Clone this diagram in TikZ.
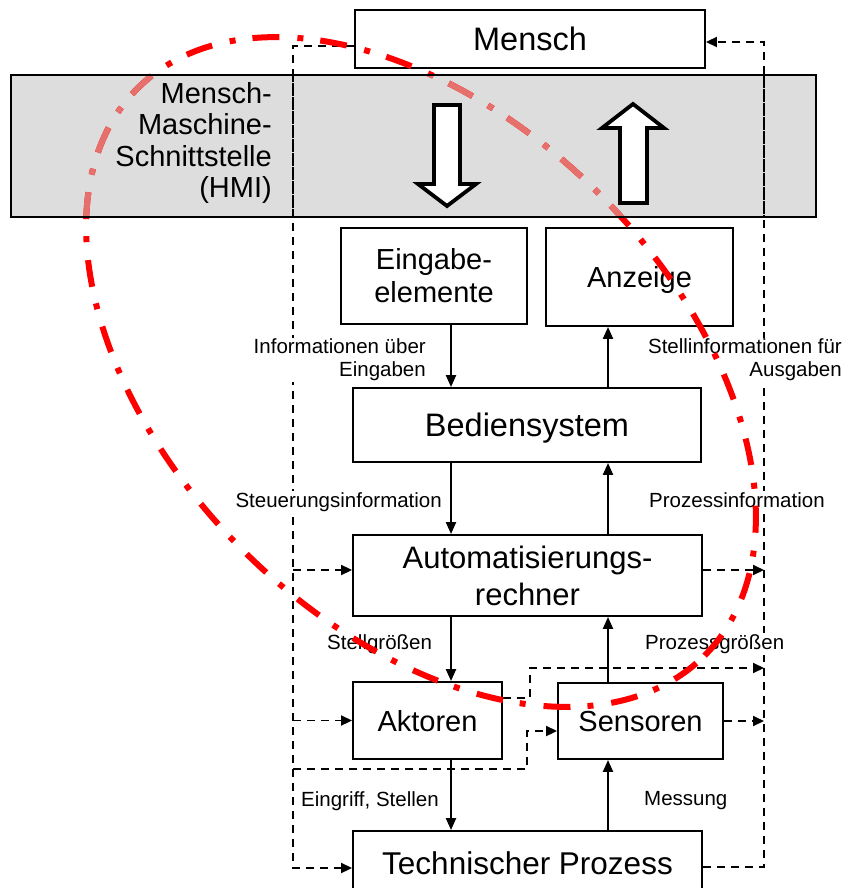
\documentclass[tikz,border=0pt]{standalone}
\usepackage{fontspec}
\setmainfont{Liberation Sans}
\usetikzlibrary{arrows.meta}
\definecolor{hmigray}{RGB}{221,221,221}
\definecolor{redline}{RGB}{255,0,0}
\definecolor{redpale}{RGB}{229,112,108}
\tikzset{
  boxnode/.style={draw=black, line width=1.9pt, fill=white, inner sep=0pt, align=center},
  oneline/.style={text depth=0pt},
  bigtext/.style={font=\fontsize{32.5}{37}\selectfont},
  midtext/.style={font=\fontsize{29}{33}\selectfont},
  lbl/.style={font=\fontsize{20.5}{23.3}\selectfont, fill=white, inner sep=1pt},
  flow/.style={line width=2.2pt, -{Triangle[length=12pt,width=10pt]}},
  fb/.style={line width=1.9pt, dash pattern=on 8pt off 6pt},
  fbarrow/.style={fb, -{Triangle[length=11pt,width=10pt]}},
  hmiarrow/.style={draw=black, fill=white, line width=3.8pt, line join=miter},
  redring/.style={line width=6pt, dash pattern=on 27pt off 17pt on 6pt off 18pt},
}
\begin{document}
\begin{tikzpicture}[x=1pt,y=-1pt]
\useasboundingbox (0,0) rectangle (845,888);

% boxes
\node[boxnode, oneline, bigtext, minimum width=350pt, minimum height=58pt] (mensch) at (530,39) {Mensch};
\node[boxnode, midtext, minimum width=186pt, minimum height=96pt] (eing) at (434,276) {Eingabe-\\elemente};
\node[boxnode, oneline, midtext, minimum width=187pt, minimum height=98pt] (anz) at (639.5,277) {Anzeige};
\node[boxnode, oneline, bigtext, minimum width=348pt, minimum height=74pt] (bed) at (527,425) {Bediensystem};
\node[boxnode, font=\fontsize{31}{37}\selectfont, minimum width=349pt, minimum height=81pt] (auto) at (527.5,575.5) {Automatisierungs-\\rechner};
\node[boxnode, oneline, midtext, minimum width=149pt, minimum height=77pt] (akt) at (427.5,720.5) {Aktoren};
\node[boxnode, oneline, midtext, minimum width=165pt, minimum height=76pt] (sen) at (640.5,721) {Sensoren};
\node[boxnode, oneline, font=\fontsize{31.5}{36}\selectfont, minimum width=349pt, minimum height=64pt] (tp) at (527.5,863) {Technischer Prozess};

% HMI band (fill)
\node[fill=hmigray, inner sep=0pt, minimum width=805pt, minimum height=142pt] (band) at (413.5,146) {};

% coordinates
\coordinate (xl) at (293,0);
\coordinate (xr) at (764,0);
\coordinate (cl) at (451,0);
\coordinate (cr) at (608,0);
\coordinate (lt) at (293,46);
\coordinate (lb) at (293,868);
\coordinate (la) at (293,570);
\coordinate (lo1) at (293,769);
\coordinate (lo2) at (527,769);
\coordinate (lo3) at (527,731);
\coordinate (ak1) at (530,698);
\coordinate (ak2) at (530,668);
\coordinate (rb) at (764,867);
\coordinate (rt) at (764,42);

% dashed feedback lines
\draw[fbarrow] ([yshift=-7pt]mensch.west) -- (lt) -- (lb) -- (lb -| tp.west);
\draw[fbarrow] (la) -- (la -| auto.west);
\draw[fbarrow] (xl |- akt.west) -- (akt.west);
\draw[fbarrow] (lo1) -- (lo2) -- (lo3) -- (lo3 -| sen.west);
\draw[fbarrow] (ak1 -| akt.east) -- (ak1) -- (ak2) -- (ak2 -| xr);
\draw[fbarrow] (rb -| tp.east) -- (rb) -- (rt) -- (rt -| mensch.east);
\draw[fbarrow] (auto.east |- la) -- (xr |- la);
\draw[fbarrow] (sen.east) -- (xr |- sen.east);

% solid flow arrows
\draw[flow] (eing.south -| cl) -- (bed.north -| cl);
\draw[flow] (bed.south -| cl) -- (auto.north -| cl);
\draw[flow] (auto.south -| cl) -- (akt.north -| cl);
\draw[flow] (akt.south -| cl) -- (tp.north -| cl);
\draw[flow] (bed.north -| cr) -- (anz.south -| cr);
\draw[flow] (auto.north -| cr) -- (bed.south -| cr);
\draw[flow] (sen.north -| cr) -- (auto.south -| cr);
\draw[flow] (tp.north -| cr) -- (sen.south -| cr);

% labels
\node[lbl, anchor=north east, align=right] (l1) at (427,337.3) {Informationen über\\Eingaben};
\node[lbl, anchor=north east, align=right] (l2) at (843,337.3) {Stellinformationen für\\Ausgaben};
\node[lbl, anchor=base east] (l3) at (443,507.3) {Steuerungsinformation};
\node[lbl, anchor=base west] (l4) at (648,507.3) {Prozessinformation};
\node[lbl, anchor=base west] (l5) at (326,649.3) {Stellgrößen};
\node[lbl, anchor=base west] (l6) at (644,649.3) {Prozessgrößen};
\node[lbl, anchor=base west] (l7) at (300,806) {Eingriff, Stellen};
\node[lbl, anchor=base west] (l8) at (643,805) {Messung};

% red dash-dot ring
\draw[redring, draw=redline] plot[domain=0:360, samples=361] ({421+0.7071*(401*cos(\x)+252*sin(\x))},{372+0.7071*(401*cos(\x)-252*sin(\x))});
\begin{scope}
  \clip (band.south west) rectangle (band.north east);
  \draw[redring, draw=redpale] plot[domain=0:360, samples=361] ({421+0.7071*(401*cos(\x)+252*sin(\x))},{372+0.7071*(401*cos(\x)-252*sin(\x))});
  \draw[fb] (lt) -- (lb);
  \draw[fb] (rb) -- (rt);
\end{scope}
\draw[line width=1.9pt] (band.south west) rectangle (band.north east);

% big HMI arrows
\draw[hmiarrow] (434,105) -- (460,105) -- (460,184) -- (476,184) -- (447,206) -- (418,184) -- (434,184) -- cycle;
\draw[hmiarrow] (620,203) -- (647,203) -- (647,128) -- (664,128) -- (633,104) -- (602,128) -- (620,128) -- cycle;

% HMI text
\node[font=\fontsize{29}{31.4}\selectfont, anchor=north east, align=right, inner sep=0pt] (hmi) at (272,82.3) {Mensch-\\Maschine-\\Schnittstelle\\(HMI)};
\end{tikzpicture}
\end{document}
